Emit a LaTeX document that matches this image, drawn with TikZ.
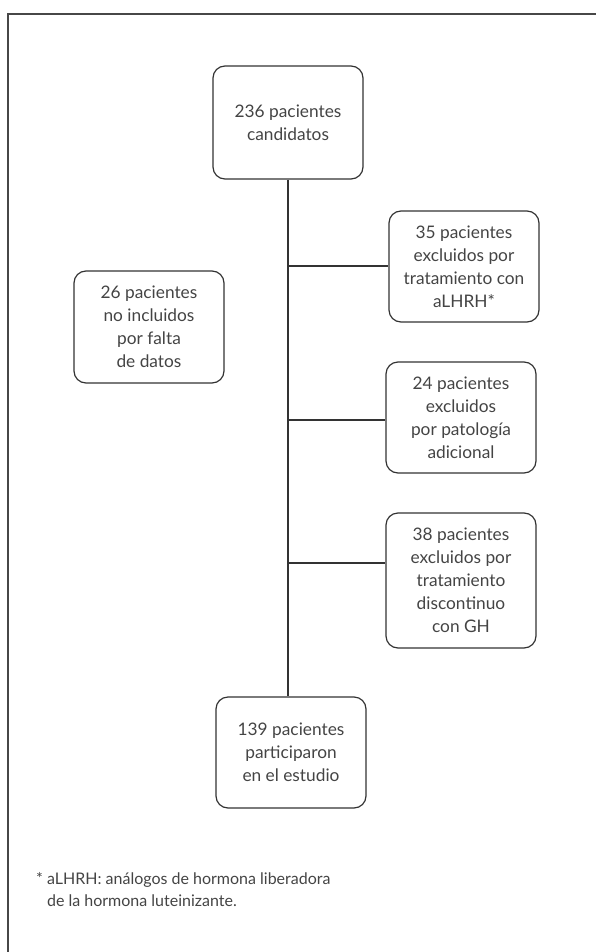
\documentclass[tikz,border=0pt]{standalone}
\usepackage{fontspec}
\setmainfont{Lato}
\definecolor{ink}{HTML}{444444}
\definecolor{linec}{HTML}{333333}
\begin{document}
\begin{tikzpicture}[x=1pt,y=-1pt,
  box/.style={draw=linec, line width=1.2pt, rounded corners=12pt, minimum width=150pt,
    inner sep=0pt, align=center, text=ink, font=\fontsize{17.3}{23}\selectfont},
  conn/.style={draw=linec, line width=1.3pt},
  frame/.style={draw=linec!90, line width=1.6pt}]
\useasboundingbox (0,0) rectangle (596,952);
\draw[frame] (8,952) -- (8,14) -- (596,14);
\node[box, minimum height=113pt] (top) at (288,122.5) {236 pacientes\\candidatos};
\node[box, minimum height=111pt] (b35) at (464,266.5) {35 pacientes\\excluidos por\\tratamiento con\\aLHRH*};
\node[box, minimum height=112pt] (b26) at (149,327) {26 pacientes\\no incluidos\\por falta\\de datos};
\node[box, minimum height=111pt] (b24) at (461,417.5) {24 pacientes\\excluidos\\por patología\\adicional};
\node[box, minimum height=135pt] (b38) at (461,580.5) {38 pacientes\\excluidos por\\tratamiento\\discontinuo\\con GH};
\node[box, minimum height=111pt] (b139) at (291,752.5) {139 pacientes\\participaron\\en el estudio};
\coordinate (j1) at (288,266);
\coordinate (j2) at (288,420);
\coordinate (j3) at (288,563);
\draw[conn] (top.south) -- (top.south |- b139.north);
\draw[conn] (j1) -- (j1 -| b35.west);
\draw[conn] (j2) -- (j2 -| b24.west);
\draw[conn] (j3) -- (j3 -| b38.west);
\node[anchor=base west, inner sep=0pt, text=ink, align=left, font=\fontsize{16}{22}\selectfont] (fn) at (36,906)
  {* aLHRH: análogos de hormona liberadora\\\hphantom{* }de la hormona luteinizante.};
\end{tikzpicture}
\end{document}
